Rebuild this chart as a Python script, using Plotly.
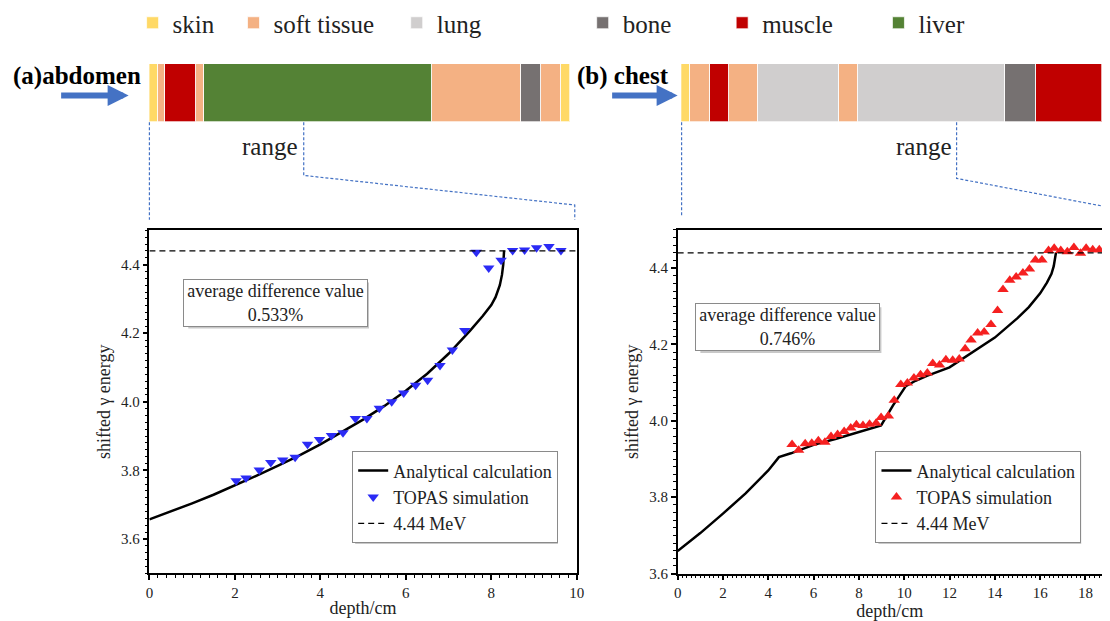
import plotly.graph_objects as go

FONT = "Liberation Serif"
W, H = 1110, 621

def X(px):
    return px / W

def Y(py):
    return 1 - py / H

# ---------------- data ----------------
tissue_names = ["skin", "soft tissue", "lung", "bone", "muscle", "liver"]
tissue_colors = ["#FFD966", "#F4B183", "#D0CECE", "#767171", "#C00000", "#548235"]

abdomen_layers = ["skin", "soft tissue", "muscle", "soft tissue", "liver",
                  "soft tissue", "bone", "soft tissue", "skin"]
abdomen_widths = [8.6, 8.0, 30.7, 8.7, 230.0, 90.0, 20.6, 20.0, 9.4]

chest_layers = ["skin", "soft tissue", "muscle", "soft tissue", "lung",
                "soft tissue", "lung", "bone", "muscle"]
chest_widths = [9.6, 19.7, 19.3, 29.4, 81.5, 19.2, 149.4, 30.6, 66.7]

# (a) abdomen
a_calc_x = [0, 0.5, 1, 1.5, 2, 2.5, 3, 3.5, 4, 4.5, 5, 5.5, 6, 6.5, 7, 7.5,
            7.8, 8.0, 8.1, 8.2, 8.25, 8.28, 8.3]
a_calc_y = [3.657, 3.680, 3.704, 3.729, 3.756, 3.784, 3.813, 3.843, 3.876,
            3.911, 3.948, 3.988, 4.032, 4.082, 4.140, 4.207, 4.250, 4.282,
            4.305, 4.340, 4.370, 4.400, 4.441]
a_sim_x = [2.03, 2.26, 2.57, 2.84, 3.12, 3.41, 3.70, 3.98, 4.26, 4.53, 4.82,
           5.09, 5.38, 5.67, 5.95, 6.23, 6.51, 6.80, 7.09, 7.38, 7.65, 7.94,
           8.23, 8.50, 8.78, 9.06, 9.35, 9.63]
a_sim_y = [3.770, 3.778, 3.801, 3.823, 3.830, 3.838, 3.876, 3.890, 3.902,
           3.910, 3.951, 3.951, 3.981, 4.000, 4.026, 4.048, 4.063, 4.106,
           4.151, 4.208, 4.436, 4.390, 4.413, 4.441, 4.443, 4.449, 4.453,
           4.441]
a_diff = "0.533%"

# (b) chest
b_calc_x = [0, 1, 2, 3, 4, 4.47, 5, 6, 7, 8, 8.98, 9.5, 10.07, 10.5, 11, 12,
            13, 14, 15, 15.5, 16, 16.3, 16.5, 16.6, 16.7]
b_calc_y = [3.659, 3.706, 3.757, 3.810, 3.870, 3.905, 3.915, 3.937, 3.953,
            3.970, 3.988, 4.040, 4.091, 4.105, 4.118, 4.140, 4.179, 4.218,
            4.269, 4.298, 4.334, 4.362, 4.385, 4.405, 4.441]
b_sim_x = [5.05, 5.34, 5.63, 5.92, 6.21, 6.50, 6.77, 7.06, 7.35, 7.64, 7.89,
           8.18, 8.47, 8.76, 8.98, 9.30, 9.56, 9.85, 10.14, 10.43, 10.72,
           11.02, 11.26, 11.56, 11.84, 12.14, 12.43, 12.69, 12.95, 13.24,
           13.53, 13.83, 14.12, 14.36, 14.66, 14.94, 15.24, 15.53, 15.79,
           16.08, 16.37, 16.62, 16.91, 17.20, 17.49, 17.78, 18.03, 18.32,
           18.61]
b_sim_y = [3.938, 3.923, 3.940, 3.941, 3.948, 3.944, 3.959, 3.964, 3.972,
           3.981, 3.990, 3.988, 3.991, 3.994, 4.009, 4.013, 4.054, 4.095,
           4.099, 4.112, 4.121, 4.125, 4.150, 4.146, 4.160, 4.159, 4.162,
           4.189, 4.212, 4.230, 4.233, 4.252, 4.289, 4.344, 4.368, 4.377,
           4.387, 4.398, 4.421, 4.421, 4.446, 4.452, 4.446, 4.443, 4.454,
           4.439, 4.452, 4.448, 4.448]
b_diff = "0.746%"

ref_energy = 4.44
ref_label = "4.44 MeV"

# ---------------- figure ----------------
fig = go.Figure()

color_of = dict(zip(tissue_names, tissue_colors))
legend_of = {name: ("legend" if i == 0 else f"legend{i + 1}")
             for i, name in enumerate(tissue_names)}
shown = set()

for layers, widths, xa, ya in [(abdomen_layers, abdomen_widths, "x3", "y3"),
                               (chest_layers, chest_widths, "x4", "y4")]:
    for name, w in zip(layers, widths):
        fig.add_trace(go.Bar(
            x=[w], y=[0], orientation="h", name=name,
            marker=dict(color=color_of[name],
                        line=dict(color="rgba(255,255,255,0.7)", width=1)),
            xaxis=xa, yaxis=ya, legend=legend_of[name],
            showlegend=name not in shown, hoverinfo="skip"))
        shown.add(name)

# (a) plot
fig.add_trace(go.Scatter(x=a_calc_x, y=a_calc_y, mode="lines",
                         name="Analytical calculation",
                         line=dict(color="black", width=2.5),
                         xaxis="x", yaxis="y", legend="legend7"))
fig.add_trace(go.Scatter(x=a_sim_x, y=a_sim_y, mode="markers",
                         name="TOPAS simulation",
                         marker=dict(symbol="triangle-down", size=10,
                                     color="#2B2BF5"),
                         xaxis="x", yaxis="y", legend="legend7"))
fig.add_trace(go.Scatter(x=[0, 10], y=[ref_energy, ref_energy], mode="lines",
                         name=ref_label,
                         line=dict(color="black", width=1.3, dash="6px,4px"),
                         xaxis="x", yaxis="y", legend="legend7"))

# (b) plot
fig.add_trace(go.Scatter(x=b_calc_x, y=b_calc_y, mode="lines",
                         name="Analytical calculation",
                         line=dict(color="black", width=2.5),
                         xaxis="x2", yaxis="y2", legend="legend8"))
fig.add_trace(go.Scatter(x=b_sim_x, y=b_sim_y, mode="markers",
                         name="TOPAS simulation",
                         marker=dict(symbol="triangle-up", size=10,
                                     color="#F52020"),
                         xaxis="x2", yaxis="y2", legend="legend8"))
fig.add_trace(go.Scatter(x=[0, 20], y=[ref_energy, ref_energy], mode="lines",
                         name=ref_label,
                         line=dict(color="black", width=1.3, dash="6px,4px"),
                         xaxis="x2", yaxis="y2", legend="legend8"))

tickfont = dict(family=FONT, size=15, color="#222")
titlefont = dict(family=FONT, size=18, color="#222")

def xax(domain, rng, mirror):
    return dict(domain=domain, range=rng, dtick=2, tick0=0,
                ticks="outside", ticklen=5, tickwidth=1.5, tickcolor="black",
                minor=dict(dtick=0.2, ticks="outside", ticklen=2.5,
                           tickwidth=1.2, tickcolor="black"),
                showline=True, linewidth=1.5, linecolor="black", mirror=mirror,
                showgrid=False, zeroline=False, tickfont=tickfont,
                title=dict(text="depth/cm", font=titlefont, standoff=1))

def yax(domain, rng, mirror, anchor):
    return dict(domain=domain, range=rng, dtick=0.2, tick0=3.6,
                tickformat=".1f", anchor=anchor,
                ticks="outside", ticklen=5, tickwidth=1.5, tickcolor="black",
                minor=dict(dtick=0.02, ticks="outside", ticklen=2.5,
                           tickwidth=1.2, tickcolor="black"),
                showline=True, linewidth=1.5, linecolor="black", mirror=mirror,
                showgrid=False, zeroline=False, tickfont=tickfont,
                title=dict(text="shifted γ energy", font=titlefont, standoff=6))

layout = dict(
    width=W, height=H, margin=dict(l=0, r=0, t=0, b=0),
    paper_bgcolor="white", plot_bgcolor="white",
    barmode="stack", bargap=0,
    font=dict(family=FONT, color="black"),
    xaxis=xax([X(147), X(579)], [0, 10], True),
    yaxis=yax([Y(580.7), Y(232.7)], [3.5, 4.5], True, "x"),
    xaxis2=dict(xax([X(681), 1.0], [0, 18.73], True), anchor="y2"),
    yaxis2=yax([Y(581), Y(232.3)], [3.6, 4.5], False, "x2"),
    xaxis3=dict(domain=[X(147), X(573)], range=[0, sum(abdomen_widths)],
                visible=False, anchor="y3"),
    yaxis3=dict(domain=[Y(123), Y(64)], range=[-0.5, 0.5], visible=False,
                anchor="x3"),
    xaxis4=dict(domain=[X(684.7), 1.0], range=[0, sum(chest_widths)],
                visible=False, anchor="y4"),
    yaxis4=dict(domain=[Y(123), Y(64)], range=[-0.5, 0.5], visible=False,
                anchor="x4"),
)

# tissue legends (one per tissue so each sits where the original does)
tissue_text_x = [170, 272, 437, 625, 766, 924]
for name, tx in zip(tissue_names, tissue_text_x):
    layout[legend_of[name]] = dict(
        x=X(tx - 40), y=Y(22), xanchor="left", yanchor="middle",
        bgcolor="rgba(0,0,0,0)", borderwidth=0,
        font=dict(family=FONT, size=25, color="#222"))

legend_style = dict(xanchor="left", yanchor="top", bgcolor="white",
                    bordercolor="#8a8a8a", borderwidth=1,
                    font=dict(family=FONT, size=18, color="#222"),
                    tracegroupgap=0)
leg_top = 457
layout["legend7"] = dict(legend_style, x=X(352), y=Y(leg_top))
layout["legend8"] = dict(legend_style, x=X(881), y=Y(leg_top))

fig.update_layout(**layout)

blue = "#4472C4"
dash_style = dict(color=blue, width=1.2, dash="3px,2px")
shapes = [
    # abdomen connector lines
    dict(type="line", x0=X(147), y0=Y(123), x1=X(147), y1=Y(222)),
    dict(type="path", path=f"M {X(303)} {Y(123)} L {X(303)} {Y(177)} "
                           f"L {X(577)} {Y(207)} L {X(577)} {Y(222)}"),
    # chest connector lines
    dict(type="line", x0=X(685), y0=Y(123), x1=X(685), y1=Y(218)),
    dict(type="path", path=f"M {X(963)} {Y(123)} L {X(963)} {Y(180)} "
                           f"L {X(1110)} {Y(208)}"),
]
for s in shapes:
    s.update(xref="paper", yref="paper", line=dash_style)
    fig.add_shape(**s)

# shadows behind the boxes
shadow = "#c8c8c8"
leg_w, leg_h = 205, 91
for (x0, y0, x1, y1) in [(183.3, 282.7, 366, 329.3), (701, 307.7, 884, 354.3),
                         (352, leg_top, 352 + leg_w, leg_top + leg_h),
                         (881, leg_top, 881 + leg_w, leg_top + leg_h)]:
    fig.add_shape(type="rect", xref="paper", yref="paper",
                  x0=X(x0 + 3), x1=X(x1 + 3), y0=Y(y0 + 3), y1=Y(y1 + 3),
                  fillcolor=shadow, line=dict(width=0))

annotations = [
    dict(x=X(141), y=Y(76), text="<b>(a)abdomen</b>", xanchor="right",
         font=dict(size=25)),
    dict(x=X(674), y=Y(76), text="<b>(b) chest</b>", xanchor="right",
         font=dict(size=25)),
    dict(x=X(299), y=Y(148), text="range", xanchor="right",
         font=dict(size=25, color="#222")),
    dict(x=X(960), y=Y(148), text="range", xanchor="right",
         font=dict(size=25, color="#222")),
    dict(x=X(274.7), y=Y(306), text="average difference value<br>" + a_diff,
         bgcolor="white", bordercolor="#8a8a8a", borderwidth=1, borderpad=1,
         width=181, height=44, font=dict(size=18, color="#222")),
    dict(x=X(792.5), y=Y(331), text="average difference value<br>" + b_diff,
         bgcolor="white", bordercolor="#8a8a8a", borderwidth=1, borderpad=1,
         width=181, height=44, font=dict(size=18, color="#222")),
]
for a in annotations:
    a.update(xref="paper", yref="paper", showarrow=False, yanchor="middle")
    a.setdefault("xanchor", "center")
    a["font"] = dict(family=FONT, color=a["font"].get("color", "black"),
                     size=a["font"]["size"])
    fig.add_annotation(**a)

for (x0, x1) in [(57, 126), (614, 681)]:
    fig.add_annotation(x=X(x1), y=Y(96), ax=-(x1 - x0), ay=0,
                       xref="paper", yref="paper",
                       text="", showarrow=True, arrowhead=2, arrowsize=0.7,
                       arrowwidth=6, arrowcolor=blue, standoff=0,
                       startstandoff=0)

fig.write_html("out.html")
